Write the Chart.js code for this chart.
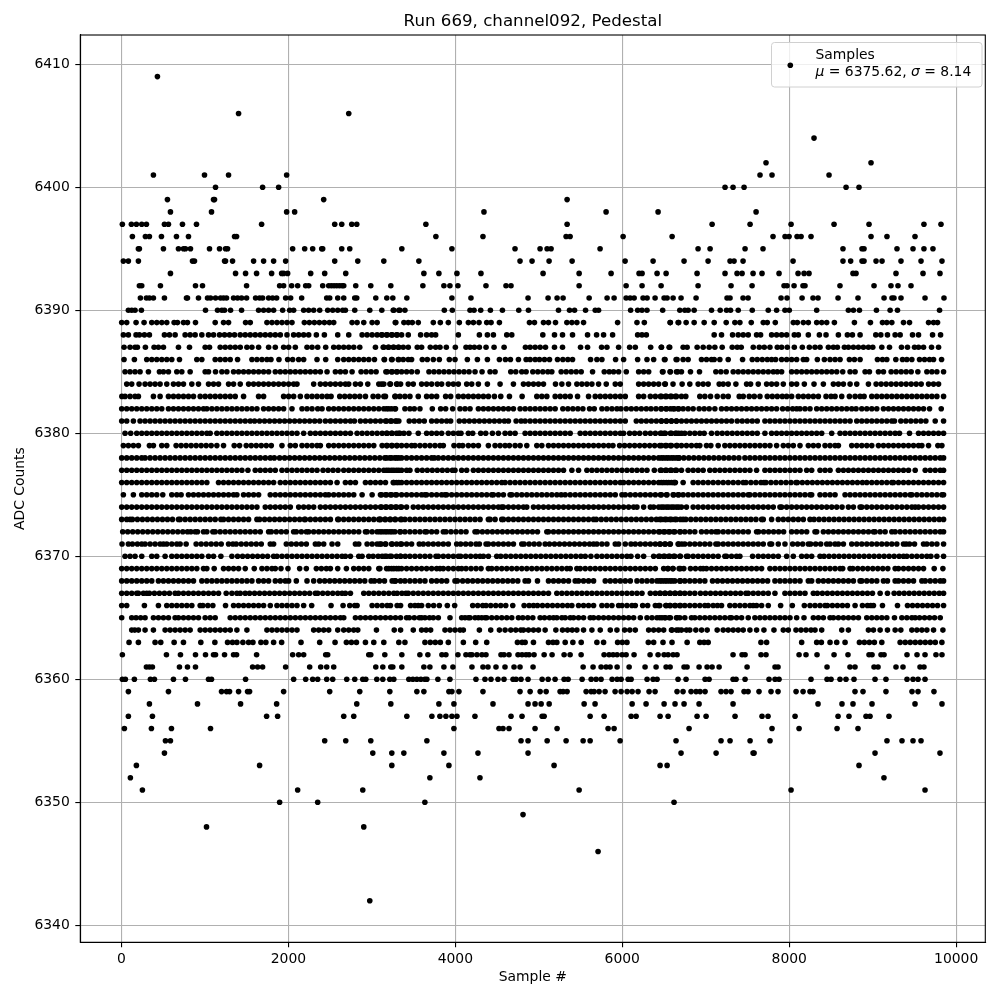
<!DOCTYPE html>
<html>
<head>
<meta charset="utf-8">
<title>Run 669, channel092, Pedestal</title>
<script src="https://cdn.jsdelivr.net/npm/chart.js@4"></script>
<style>
  html, body { margin: 0; padding: 0; background: #fff; }
  canvas { display: block; }
</style>
</head>
<body>
<canvas id="chart" width="1000" height="1000"></canvas>
<script>
const xTicks = [0,2000,4000,6000,8000,10000];
const yTicks = [6340,6350,6360,6370,6380,6390,6400,6410];

// sample numbers seen at each ADC level
const adc6342 = [2975];
const adc6346 = [5710];
const adc6348 = [1019,2903];
const adc6349 = [4811];
const adc6350 = [1895,2351,3635,6620];
const adc6351 = [251,2111,2891,5483,8022,9627];
const adc6352 = [107,3695,4295,9135];
const adc6353 = [179,1655,3239,3923,5183,6453,6537,8836];
const adc6354 = [515,3011,3239,3383,3863,4271,4871,6704,7124,7567,7579,9028,9806];
const adc6355 = [527,587,2435,2687,2987,3659,4787,4871,5100,5327,5531,5615,5974,6644,7183,7291,7531,7770,9171,9351,9483,9579];
const adc6356 = [35,359,599,1067,3983,4523,4571,4643,4955,5219,5830,5902,6800,7794,8118,8573,8824];
const adc6357 = [83,371,1739,1871,2663,2783,3419,3719,3815,3887,3959,4019,4235,4667,4799,5040,5064,5615,5782,6106,6166,6453,6549,6896,7004,7351,7674,7746,8070,8585,8716,8920,8968,9195];
const adc6358 = [335,911,1427,1859,2819,3227,3803,3983,4451,4871,4955,5028,5124,5543,5674,6118,6285,6501,6632,6740,6920,7327,8345,8632,8764,8992,9507,9830];
const adc6359 = [83,563,1199,1259,1295,1403,1511,1535,1943,2495,2855,3215,3539,3623,3923,3959,4043,4331,4775,4896,5016,5088,5255,5291,5339,5567,5627,5662,5722,5794,5914,5986,6058,6118,6189,6321,6393,6656,6728,6824,6884,6932,6992,7183,7243,7303,7459,7507,7638,7782,7866,8082,8166,8249,8285,8788,8884,9159,9471,9543,9734];
const adc6360 = [11,47,155,347,395,623,767,1043,1079,1487,2063,2207,2291,2351,2459,2531,2699,2795,2891,2927,3059,3131,3215,3263,3443,3491,3539,3587,3635,3659,3791,3935,4247,4355,4427,4511,4583,4691,4727,4787,4871,5040,5112,5195,5303,5351,5519,5627,5686,5746,5878,5938,5986,6070,6106,6297,6369,6417,6668,6764,6992,7040,7327,7363,7471,7758,7830,7878,8261,8453,8501,8608,8680,8776,9028,9159,9411,9483,9543,9627];
const adc6361 = [299,335,371,695,791,887,1571,1631,1691,1967,2255,2387,2459,2543,3047,3131,3227,3251,3359,3623,3695,3863,3971,4199,4331,4391,4487,4595,4703,4775,4931,5531,5650,5746,5806,5854,5938,6082,6273,6405,6525,6573,6740,6776,6920,7016,7076,7160,7495,7830,7866,8453,8728,8788,9016,9064,9279,9363,9567,9614];
const adc6362 = [11,539,707,887,1007,1103,1127,1235,1343,1379,1619,2051,2123,2183,2447,2471,2963,2987,3155,3359,3575,3671,3839,3887,4031,4127,4175,4199,4259,4319,4367,4547,4583,4643,4751,4799,4847,4883,4943,5064,5159,5303,5375,5507,5782,5842,5890,5938,5998,6046,6141,6333,6429,6501,6549,6609,6656,7327,7435,7471,7662,7722,8118,8201,8333,8537,8704,8956,8992,9100,9136,9411,9531,9627,9758,9830];
const adc6363 = [91,203,403,471,631,743,951,1119,1271,1330,1383,1455,1523,1575,1671,1730,1823,1919,2151,2375,2559,2695,2755,2815,2923,3023,3143,3323,3396,3636,3700,3760,3820,3916,4096,4244,4376,4744,4800,4836,4936,5116,5170,5216,5316,5408,5508,5696,5776,5944,6000,6056,6312,6376,6488,6596,6777,6929,6980,7029,7661,7729,8149,8329,8385,8489,8569,8669,8841,8900,8960,9020,9109,9329,9390,9450,9510,9570,9630,9690,9750,9829];
const adc6364 = [123,160,203,283,383,523,583,643,703,763,823,943,1003,1063,1123,1183,1243,1303,1383,1503,1743,1803,1863,1923,1983,2043,2103,2303,2363,2423,2483,2591,2663,2723,2783,2831,3055,3268,3344,3496,3596,3650,3704,3876,3936,3996,4056,4096,4288,4424,4528,4596,4664,4724,4784,4816,4876,4936,4996,5076,5204,5284,5344,5400,5456,5536,5636,5736,5856,5936,6028,6090,6156,6316,6376,6436,6496,6596,6676,6589,6649,6709,6769,6809,6881,6950,7017,7137,7209,7269,7329,7389,7449,7529,7609,7697,7817,7929,7989,8081,8141,8201,8261,8309,8389,8629,8709,8949,9009,9089,9177,9269,9337,9469,9529,9589,9649,9729,9841];
const adc6365 = [3,123,175,230,283,383,443,503,563,643,683,743,803,863,923,1003,1063,1123,1303,1363,1423,1483,1543,1603,1663,1723,1783,1843,1903,1963,2023,2083,2143,2203,2263,2323,2383,2443,2503,2563,2623,2663,2803,2863,2923,2983,3043,3103,3163,3223,3283,3343,3416,3448,3508,3568,3596,3636,3690,3736,3796,3936,4076,4116,4156,4176,4236,4276,4316,4356,4376,4436,4496,4556,4616,4676,4756,4808,4868,4928,5016,5068,5128,5176,5216,5276,5316,5376,5416,5476,5536,5616,5656,5716,5776,5836,5896,5956,6016,6076,6136,6216,6296,6356,6416,6476,6516,6576,6656,6449,6509,6561,6649,6689,6749,6829,6869,6929,6989,7049,7109,7169,7229,7289,7309,7369,7429,7509,7589,7649,7709,7769,7829,7889,7949,8009,8089,8177,8289,8349,8409,8489,8529,8589,8649,8709,8769,8829,8929,8989,9049,9109,9169,9261,9349,9409,9469,9509,9561,9621,9681,9741,9809];
const adc6366 = [3,63,275,443,543,603,663,723,783,843,943,975,1035,1095,1247,1343,1403,1463,1523,1583,1643,1703,1783,1863,1923,1983,2043,2103,2183,2279,2511,2655,2735,2795,2823,3003,3063,3123,3183,3223,3303,3344,3464,3516,3556,3596,3676,3740,3808,3904,3992,4208,4268,4328,4368,4424,4484,4544,4604,4688,4824,4884,4936,4984,5044,5104,5164,5224,5284,5344,5396,5476,5536,5596,5656,5756,5816,5876,5956,5996,6056,6116,6156,6244,6304,6396,6436,6528,6576,6636,6688,6449,6521,6569,6629,6697,6749,6809,6869,6929,6989,7029,7089,7140,7189,7289,7349,7409,7469,7529,7569,7609,7669,7749,7897,8037,8181,8249,8309,8369,8429,8457,8517,8577,8637,8697,8789,8877,8937,8977,9009,9117,9297,9417,9477,9537,9597,9657,9717,9777,9849];
const adc6367 = [3,63,123,183,203,263,303,335,395,455,515,575,643,683,743,803,863,923,983,1043,1103,1163,1255,1323,1383,1423,1483,1535,1595,1655,1715,1775,1835,1895,1955,2015,2075,2135,2195,2255,2323,2351,2411,2471,2531,2591,2643,2683,2743,2903,2963,3023,3083,3143,3203,3263,3303,3360,3408,3436,3496,3556,3616,3676,3736,3796,3856,3916,3976,4036,4096,4156,4216,4276,4336,4396,4456,4516,4576,4636,4696,4756,4816,4876,4936,4996,5056,5116,5216,5276,5336,5396,5456,5516,5576,5636,5696,5756,5816,5876,5936,5996,6056,6116,6176,6236,6336,6396,6456,6516,6576,6636,6696,6449,6509,6569,6629,6689,6749,6809,6869,6937,6997,7057,7117,7177,7237,7297,7357,7417,7481,7509,7569,7629,7689,7749,7829,7949,8009,8069,8129,8189,8289,8337,8397,8457,8517,8577,8637,8697,8757,8817,8877,8937,8997,9089,9177,9257,9317,9377,9437,9497,9557,9617,9677,9737,9797,9849];
const adc6368 = [3,63,123,183,243,303,363,443,503,563,623,683,743,803,863,963,1023,1083,1143,1203,1263,1323,1383,1443,1503,1563,1643,1703,1763,1843,1903,1963,2003,2095,2223,2303,2375,2435,2495,2555,2615,2675,2735,2795,2855,2915,2991,3031,3091,3151,3243,3283,3343,3396,3276,3456,3516,3576,3636,3716,3776,3836,3896,3996,4024,4088,4148,4208,4268,4328,4388,4448,4508,4568,4628,4688,4748,4836,4876,4984,5116,5176,5236,5296,5356,5436,5476,5536,5596,5656,5796,5856,5916,5976,6036,6096,6176,6236,6296,6356,6416,6476,6536,6596,6696,6449,6509,6569,6629,6689,6749,6809,6869,6929,6989,7081,7141,7201,7261,7321,7381,7441,7501,7561,7621,7681,7741,7829,7889,7949,8009,8069,8129,8229,8269,8349,8409,8469,8529,8589,8649,8709,8769,8849,8869,8929,8989,9049,9129,9177,9269,9309,9369,9429,9489,9589,9629,9689,9749,9809,9849];
const adc6369 = [3,63,123,183,243,303,363,423,483,543,603,663,723,783,843,903,983,1023,1111,1223,1283,1343,1403,1483,1591,1683,1743,1803,1843,1911,1995,2135,2215,2335,2395,2455,2503,2591,2695,2783,2843,2903,2963,3083,3203,3263,3323,3096,3176,3236,3296,3356,3416,3476,3536,3596,3656,3716,3776,3816,3856,3916,3976,4036,4076,4128,4188,4248,4308,4396,4436,4496,4556,4616,4676,4736,4796,4856,4916,4976,5036,5096,5156,5216,5276,5336,5376,5456,5496,5556,5616,5676,5736,5796,5856,5916,5976,6036,6096,6156,6216,6276,6336,6396,6496,6544,6604,6696,6549,6609,6681,6737,6817,6877,6937,6969,7009,7069,7129,7189,7249,7309,7369,7429,7489,7549,7609,7669,7769,7829,7889,7949,8009,8069,8129,8189,8249,8309,8369,8429,8489,8549,8609,8641,8729,8761,8821,8881,8941,9001,9061,9121,9181,9269,9309,9369,9429,9489,9549,9609,9737,9841];
const adc6370 = [43,103,163,243,363,423,523,603,663,723,783,843,903,963,1043,1103,1191,1323,1391,1451,1511,1571,1631,1691,1751,1823,1863,1923,1983,2043,2103,2163,2223,2283,2343,2403,2463,2523,2583,2643,2683,2743,2843,2883,2963,3015,3075,3123,3175,3235,3295,3343,3400,3156,3216,3344,3456,3516,3576,3636,3696,3768,3796,3856,3916,3976,4036,4064,4124,4184,4244,4296,4336,4396,4496,4544,4604,4664,4724,4784,4844,4904,4964,5024,5084,5144,5204,5264,5324,5384,5444,5504,5556,5624,5696,5756,5816,5876,5936,5996,6056,6104,6184,6256,6376,6436,6496,6556,6616,6696,6449,6509,6569,6629,6689,6769,6789,6849,6909,6969,7029,7089,7149,7229,7249,7309,7369,7409,7561,7629,7689,7749,7809,7869,7969,8049,8149,8209,8269,8369,8417,8477,8537,8597,8657,8717,8777,8837,8897,8957,9017,9077,9137,9197,9257,9317,9369,9409,9469,9529,9589,9649,9697,9769,9849];
const adc6371 = [7,83,131,191,243,283,343,403,463,503,543,603,663,703,775,895,955,1015,1075,1135,1195,1283,1335,1375,1435,1495,1555,1615,1675,1783,1823,1975,2035,2095,2155,2215,2323,2363,2423,2523,2591,2803,2843,2943,3003,3063,3111,3167,3243,3343,3096,3160,3236,3296,3356,3416,3476,3568,3616,3676,3736,3796,3856,3916,4016,4064,4124,4184,4248,4288,4368,4396,4456,4516,4576,4636,4696,4796,4824,4884,4944,5004,5076,5128,5188,5248,5308,5368,5428,5488,5548,5608,5656,5696,5756,5816,5916,5956,6036,6104,6156,6216,6276,6336,6396,6456,6516,6576,6676,6449,6509,6569,6669,6713,6749,6809,6869,6929,6989,7049,7121,7149,7209,7269,7329,7389,7449,7509,7569,7629,7689,7769,7789,7869,7949,8041,8101,8161,8229,8257,8317,8377,8449,8489,8549,8589,8649,8749,8809,8869,8929,8989,9049,9109,9169,9229,9289,9369,9401,9441,9501,9609,9649,9709,9769,9849];
const adc6372 = [15,75,135,195,255,315,375,435,495,555,615,675,735,791,831,883,911,983,1023,1095,1123,1183,1243,1303,1363,1423,1483,1543,1603,1663,1763,1795,1855,1915,1975,2063,2095,2155,2215,2243,2303,2363,2423,2483,2543,2603,2663,2723,2783,2843,2923,2943,3003,3063,3123,3183,3243,3343,3096,3156,3216,3276,3336,3396,3456,3516,3576,3636,3656,3716,3776,3856,3888,3948,4008,4068,4128,4236,4264,4324,4384,4444,4504,4564,4624,4684,4744,4804,4864,4924,4984,5096,5116,5176,5236,5296,5356,5416,5476,5536,5596,5656,5716,5776,5836,5896,5956,6016,6076,6136,6196,6256,6316,6376,6436,6496,6556,6616,6696,6449,6509,6569,6629,6689,6749,6809,6869,6949,7009,7069,7121,7149,7209,7269,7329,7389,7449,7509,7609,7633,7693,7753,7813,7873,7933,8029,8089,8149,8209,8309,8329,8409,8469,8529,8589,8649,8709,8769,8829,8889,8949,9009,9029,9089,9149,9229,9269,9329,9389,9449,9509,9569,9629,9689,9749,9809,9849];
const adc6373 = [3,63,103,131,191,251,311,371,431,491,551,611,683,703,763,823,883,943,1003,1063,1123,1191,1223,1283,1343,1403,1463,1523,1623,1655,1715,1775,1835,1895,1955,2015,2075,2135,2191,2203,2263,2323,2383,2443,2503,2591,2603,2663,2723,2783,2843,2903,2963,3023,3083,3103,3163,3223,3283,3343,3096,3156,3216,3276,3356,3396,3456,3516,3576,3636,3696,3756,3816,3876,3936,3996,4056,4116,4176,4236,4296,4396,4416,4476,4556,4576,4636,4696,4756,4816,4876,4936,4996,5056,5116,5176,5236,5296,5356,5416,5476,5536,5596,5656,5688,5748,5808,5868,5928,5988,6048,6108,6168,6228,6288,6348,6408,6468,6528,6588,6648,6696,6449,6509,6569,6629,6729,6761,6821,6881,6941,7001,7061,7121,7181,7241,7301,7361,7421,7481,7541,7601,7669,7689,7789,7869,7929,7989,8049,8109,8169,8249,8297,8357,8417,8477,8537,8597,8657,8717,8777,8837,8897,8957,9017,9077,9137,9197,9257,9317,9377,9437,9497,9557,9617,9677,9737,9797,9849];
const adc6374 = [3,63,123,183,243,303,363,423,483,543,603,663,723,783,843,903,963,1023,1083,1143,1203,1263,1323,1383,1443,1503,1563,1623,1723,1783,1843,1903,1963,2023,2123,2183,2243,2303,2383,2443,2503,2563,2623,2683,2743,2803,2863,2923,2983,3043,3103,3163,3223,3283,3343,3116,3176,3236,3296,3356,3416,3496,3556,3616,3676,3736,3796,3856,3916,3976,4036,4096,4156,4216,4276,4336,4396,4456,4516,4556,4576,4636,4696,4756,4816,4856,4936,4996,5056,5116,5176,5236,5296,5356,5416,5476,5536,5596,5656,5716,5776,5836,5896,5956,6016,6076,6136,6176,6256,6336,6376,6436,6496,6556,6616,6676,6469,6529,6589,6649,6709,6769,6849,6909,6969,7029,7089,7149,7209,7269,7329,7389,7449,7509,7569,7629,7689,7749,7809,7889,7909,7969,8029,8089,8149,8209,8269,8329,8389,8449,8509,8569,8633,8709,8769,8849,8869,8929,8989,9049,9109,9169,9229,9289,9349,9409,9469,9509,9549,9609,9669,9729,9789,9849];
const adc6375 = [23,143,243,303,363,423,495,603,663,715,803,863,923,983,1043,1103,1163,1223,1283,1343,1383,1463,1523,1583,1643,1783,1843,1903,1963,2023,2083,2143,2203,2263,2323,2383,2443,2483,2543,2603,2663,2723,2783,2883,3003,3103,3163,3223,3283,3116,3176,3236,3296,3356,3416,3476,3536,3596,3636,3656,3716,3776,3836,3876,3896,3956,4016,4076,4136,4196,4256,4316,4376,4436,4456,4516,4576,4656,4676,4736,4796,4856,4916,4976,5036,5096,5156,5216,5268,5316,5376,5436,5496,5556,5616,5676,5736,5796,5856,5916,5996,6036,6096,6156,6216,6276,6336,6396,6456,6536,6616,6676,6469,6529,6609,6669,6729,6789,6849,6909,6969,7029,7089,7149,7209,7269,7329,7389,7449,7509,7529,7589,7649,7709,7769,7829,7889,7949,8009,8069,8129,8189,8249,8269,8369,8429,8489,8549,8669,8729,8789,8849,8909,8969,9029,9089,9149,9209,9269,9329,9389,9449,9469,9529,9589,9649,9709,9769,9829,9849];
const adc6376 = [3,63,123,183,243,303,363,423,483,543,603,663,723,783,843,903,963,1023,1163,1223,1283,1343,1403,1463,1523,1583,1643,1703,1763,1823,1903,1963,2023,2083,2143,2203,2263,2323,2383,2443,2503,2583,2683,2743,2803,2923,2983,3043,3103,3163,3263,3323,3256,3296,3356,3416,3476,3536,3596,3656,3716,3776,3836,3896,3956,4016,4076,4136,4196,4256,4316,4376,4436,4496,4556,4596,4656,4716,4776,4836,4896,4956,5016,5076,5136,5196,5256,5316,5376,5436,5496,5556,5616,5676,5736,5796,5856,5916,5976,6016,6076,6136,6196,6256,6316,6376,6436,6496,6556,6616,6636,6469,6529,6589,6629,6729,6849,6909,6969,7029,7089,7149,7209,7269,7329,7389,7449,7481,7541,7601,7661,7697,7721,7781,7841,7901,7961,8021,8081,8097,8157,8217,8277,8337,8397,8457,8517,8577,8637,8697,8757,8817,8877,8929,8989,9049,9109,9169,9229,9249,9309,9369,9429,9489,9549,9609,9669,9729,9789,9849];
const adc6377 = [3,63,123,183,243,303,363,423,483,543,603,663,723,783,843,903,963,1023,1083,1143,1203,1263,1323,1383,1443,1515,1603,1663,1723,1783,1843,1923,1983,2043,2103,2163,2223,2283,2343,2415,2475,2535,2595,2663,2723,2783,2843,2903,2963,3023,3083,3143,3203,3263,3323,3176,3236,3296,3356,3416,3456,3544,3604,3664,3724,3784,3844,3904,3964,3996,4076,4136,4216,4276,4336,4396,4456,4516,4576,4636,4696,4756,4816,4876,4936,4996,5056,5116,5176,5236,5296,5396,5476,5576,5636,5696,5756,5816,5876,5936,5996,6056,6116,6176,6236,6296,6384,6456,6516,6576,6636,6469,6529,6589,6649,6709,6789,6849,6909,6969,7049,7109,7169,7229,7289,7349,7409,7469,7529,7609,7709,7769,7829,7889,7949,8009,8069,8129,8209,8269,8369,8429,8489,8589,8649,8709,8769,8829,8889,8949,9009,9069,9129,9189,9249,9309,9369,9429,9509,9629,9689,9749,9809,9849];
const adc6378 = [3,63,123,183,243,283,343,403,463,523,583,643,703,763,823,883,943,1003,1063,1123,1183,1243,1303,1363,1423,1483,1543,1603,1663,1723,1783,1831,1895,1955,2015,2075,2135,2195,2255,2315,2375,2435,2495,2555,2615,2675,2735,2795,2855,2915,2975,3035,3095,3155,3215,3275,3323,3176,3236,3296,3356,3416,3476,3536,3596,3656,3716,3748,3796,3856,3916,3976,4036,4096,4156,4216,4276,4336,4396,4456,4516,4576,4636,4696,4756,4816,4876,4936,4996,5056,5116,5176,5236,5296,5356,5416,5476,5536,5596,5656,5716,5776,5836,5896,5956,6016,6076,6136,6196,6256,6316,6376,6436,6496,6556,6616,6676,6469,6529,6589,6649,6681,6737,6797,6857,6917,6977,7037,7097,7157,7217,7277,7337,7397,7469,7529,7589,7649,7709,7769,7829,7889,7949,8009,8069,8129,8189,8249,8309,8369,8429,8489,8549,8609,8669,8729,8789,8849,8909,8969,9029,9089,9149,9209,9269,9329,9389,9449,9509,9569,9629,9689,9749,9809,9849];
const adc6379 = [23,83,143,203,335,383,483,543,655,715,775,835,895,955,1015,1075,1143,1223,1351,1415,1495,1555,1615,1675,1735,1795,1923,2023,2083,2163,2223,2283,2343,2383,2483,2543,2603,2663,2723,2783,2843,2903,2963,3023,3123,3183,3243,3303,3176,3236,3296,3356,3416,3476,3516,3576,3636,3696,3756,3816,3856,3984,4044,4088,4156,4216,4276,4396,4476,4536,4596,4648,4716,4776,4856,4976,5036,5116,5176,5236,5296,5356,5416,5476,5536,5596,5656,5716,5776,5836,5888,5968,6028,6088,6148,6208,6268,6328,6388,6448,6516,6576,6656,6469,6529,6589,6649,6709,6769,6829,6889,6929,7009,7061,7149,7229,7289,7349,7409,7469,7529,7589,7649,7709,7769,7849,7929,7989,8049,8129,8229,8289,8349,8429,8489,8549,8589,8749,8809,8869,8929,8989,9069,9129,9189,9249,9309,9369,9429,9489,9549,9589,9669,9781,9829];
const adc6380 = [43,111,183,243,303,363,423,483,543,603,663,723,783,843,903,963,1023,1063,1143,1203,1263,1323,1383,1443,1503,1563,1623,1683,1743,1803,1863,1923,1983,2043,2103,2183,2263,2323,2383,2443,2503,2563,2623,2683,2743,2823,2883,2943,3003,3063,3123,3183,3243,3323,3176,3236,3296,3336,3384,3444,3556,3656,3716,3776,3836,3916,3976,4036,4068,4156,4208,4304,4364,4444,4516,4596,4656,4716,4836,4896,4956,5016,5076,5136,5196,5256,5316,5376,5496,5556,5616,5676,5736,5796,5856,5916,5976,6016,6088,6148,6208,6276,6336,6396,6456,6516,6576,6636,6676,6469,6501,6589,6649,6709,6749,6809,6869,6929,6981,7069,7137,7197,7257,7317,7377,7437,7497,7557,7617,7709,7789,7849,7909,7969,8029,8089,8149,8209,8269,8329,8389,8509,8609,8669,8729,8789,8849,8909,8969,9029,9089,9149,9209,9269,9321,9441,9549,9609,9669,9729,9789,9849];
const adc6381 = [3,63,143,223,283,343,403,463,523,583,643,703,763,823,883,943,1003,1063,1123,1183,1243,1303,1363,1423,1483,1543,1595,1655,1715,1775,1835,1895,1955,2015,2075,2135,2195,2255,2315,2375,2443,2503,2563,2623,2683,2743,2791,2863,2923,2983,3043,3103,3163,3223,3283,3323,3176,3236,3296,3448,3508,3568,3628,3716,3776,3836,3896,3944,4048,4108,4168,4228,4288,4348,4408,4468,4528,4588,4636,4728,4788,4836,4896,4956,5016,5076,5136,5196,5256,5316,5376,5436,5496,5556,5616,5676,5736,5796,5856,5916,5976,6036,6168,6228,6288,6348,6408,6468,6528,6588,6648,6469,6529,6589,6649,6709,6769,6829,6889,6949,7009,7069,7129,7189,7249,7309,7377,7437,7497,7557,7617,7709,7769,7829,7889,7949,8009,8069,8129,8189,8249,8309,8369,8429,8489,8549,8609,8669,8729,8809,8869,8929,8989,9049,9109,9169,9229,9261,9337,9397,9457,9517,9577,9637,9749,9849];
const adc6382 = [3,63,123,183,243,303,363,423,483,563,623,683,743,803,863,923,983,1023,1083,1143,1203,1263,1323,1383,1443,1503,1563,1623,1703,1763,1823,1883,1943,2043,2163,2223,2283,2351,2403,2483,2543,2603,2663,2723,2783,2843,2903,2963,3023,3083,3143,3203,3283,3176,3236,3276,3396,3456,3508,3576,3724,3824,3884,3968,4056,4116,4176,4276,4336,4396,4456,4516,4576,4636,4696,4776,4836,4896,4956,5016,5076,5136,5196,5288,5348,5408,5468,5528,5608,5664,5756,5816,5876,5936,5984,6048,6108,6168,6228,6288,6344,6404,6464,6524,6576,6624,6676,6469,6529,6609,6669,6729,6789,6849,6921,6981,7041,7109,7189,7249,7309,7369,7429,7489,7549,7609,7669,7729,7789,7849,7921,7981,8041,8089,8129,8189,8249,8329,8389,8449,8509,8569,8629,8689,8749,8801,8869,8929,8989,9049,9129,9189,9249,9309,9369,9429,9489,9549,9609,9681,9821];
const adc6383 = [5,43,103,163,203,383,463,563,623,683,743,803,863,943,1003,1063,1123,1183,1243,1303,1363,1463,1643,1703,1943,2003,2063,2143,2223,2283,2343,2403,2463,2511,2615,2675,2735,2795,2855,2923,3015,3075,3163,3283,3144,3276,3336,3396,3456,3556,3656,3716,3776,3884,3944,4036,4096,4156,4216,4276,4336,4396,4468,4544,4648,4800,4976,5036,5096,5196,5256,5316,5376,5464,5596,5676,5736,5796,5856,5916,5976,6036,6196,6256,6336,6396,6456,6516,6576,6636,6469,6529,6589,6649,6709,6761,6929,6989,7057,7137,7209,7269,7401,7449,7521,7581,7649,7737,7797,7857,7917,7969,8029,8109,8169,8229,8289,8349,8441,8501,8549,8629,8721,8789,8849,8897,8989,9049,9109,9169,9229,9289,9349,9409,9469,9529,9589,9649,9709,9769,9849];
const adc6384 = [63,123,211,283,343,403,463,543,623,683,743,843,923,1043,1103,1163,1283,1343,1423,1523,1583,1643,1703,1763,1823,1883,1943,2003,2063,2103,2303,2383,2443,2503,2563,2623,2683,2723,2803,2863,2951,3083,3143,3223,3303,3116,3216,3296,3344,3436,3496,3596,3656,3716,3784,3836,3916,3976,4036,4136,4196,4276,4384,4536,4696,4816,4876,4936,4996,5056,5200,5276,5356,5456,5516,5576,5636,5716,5808,5916,5976,6196,6256,6316,6376,6436,6516,6608,6509,6717,6809,6909,6969,7029,7161,7209,7269,7361,7489,7537,7629,7729,7789,7849,7929,8029,8089,8181,8297,8409,8529,8589,8649,8729,8809,8949,9041,9101,9161,9221,9281,9341,9401,9461,9521,9581,9669,9729,9789];
const adc6385 = [43,103,163,223,323,455,503,563,663,723,823,1003,1043,1127,1203,1263,1343,1403,1463,1523,1583,1643,1703,1763,1843,1903,1963,2023,2083,2143,2203,2263,2323,2383,2463,2563,2623,2683,2763,2871,2931,2991,3051,3183,3243,3303,3168,3236,3296,3356,3416,3476,3544,3684,3744,3804,3864,3924,3984,4044,4104,4164,4236,4320,4416,4476,4664,4724,4796,4848,4928,4988,5048,5108,5156,5268,5328,5388,5448,5508,5644,5784,5844,5896,5956,6048,6196,6256,6316,6488,6576,6664,6481,6573,6649,6709,6817,6925,7121,7181,7245,7329,7389,7449,7509,7569,7629,7689,7749,7809,7857,7909,8029,8089,8149,8209,8269,8329,8389,8449,8509,8569,8641,8729,8789,8909,8961,9069,9129,9221,9281,9341,9401,9461,9541,9649,9709,9769,9849];
const adc6386 = [31,155,303,363,423,483,543,603,695,903,963,1123,1183,1243,1303,1391,1563,1623,1683,1743,1791,1887,1991,2051,2123,2183,2343,2447,2591,2663,2723,2783,2843,2903,2963,3031,3151,3243,3323,3148,3236,3316,3376,3436,3476,3604,3664,3736,3808,3928,3996,4144,4264,4384,4528,4600,4660,4756,4848,4896,4956,5008,5068,5128,5224,5288,5348,5404,5620,5696,5756,5920,6016,6184,6296,6376,6512,6656,6505,6645,6729,6789,6949,7009,7069,7101,7169,7269,7441,7557,7617,7677,7737,7789,7837,7909,7969,8029,8089,8169,8209,8337,8421,8489,8549,8609,8721,8781,8849,9057,9117,9169,9277,9357,9409,9469,9561,9621,9681,9729,9825];
const adc6387 = [31,103,163,191,287,391,443,503,683,815,1003,1055,1183,1243,1303,1363,1423,1503,1563,1643,1763,1843,1943,2003,2083,2223,2283,2351,2447,2543,2603,2663,2723,2783,2855,3043,3143,3203,3263,3323,3136,3196,3256,3316,3376,3436,3544,3596,3700,3764,3816,3892,4000,4128,4176,4228,4288,4368,4464,4584,4840,4896,4956,5016,5080,5188,5284,5500,5584,5752,5816,5956,6088,6156,6340,6468,6568,6469,6561,6729,6777,6897,6969,7041,7109,7197,7317,7377,7425,7569,7641,7701,7769,7857,7909,7977,8061,8157,8241,8309,8369,8469,8529,8577,8661,8709,8769,8829,8889,8949,9001,9109,9201,9345,9417,9501,9549,9609,9705,9789];
const adc6388 = [23,83,175,215,275,335,515,575,643,763,823,883,963,1043,1103,1175,1235,1295,1355,1423,1483,1543,1603,1663,1723,1783,1843,1903,1983,2063,2123,2183,2243,2335,2431,2591,2723,2883,2943,3003,3063,3123,3183,3243,3303,3116,3176,3236,3296,3356,3436,3584,3656,3716,3764,4036,4288,4384,4456,4616,4676,5048,5188,5284,5404,5584,5692,5776,5884,6184,6236,6288,7101,7189,7321,7389,7449,7509,7609,7657,7789,7849,7909,7969,8061,8109,8229,8361,8441,8589,8697,8757,8849,9037,9097,9177,9269,9329,9477,9549,9717,9813];
const adc6389 = [3,63,175,271,363,423,483,543,631,671,743,791,887,1123,1223,1283,1487,1543,1743,1803,1863,1923,1983,2043,2191,2251,2311,2371,2431,2491,2543,2763,2823,2903,3003,3063,3287,3280,3384,3436,3484,3556,3736,3820,3916,4048,4156,4216,4284,4376,4428,4528,4888,4948,5056,5116,5200,5336,5396,5456,5536,5944,6176,6264,6576,6676,6573,6669,6765,6861,6981,7101,7245,7349,7409,7545,7689,7737,7833,8049,8097,8169,8229,8329,8389,8449,8541,8781,8973,9117,9169,9229,9369,9441,9669,9729,9777];
const adc6390 = [83,123,163,239,1007,1151,1203,1235,1307,1439,1643,1703,1763,1823,1931,2015,2063,2183,2243,2303,2375,2471,2531,2591,2651,2683,2795,2975,3119,3263,3323,3256,3336,3396,3868,3964,4176,4224,4304,4420,4564,4760,4876,5236,5368,5428,5560,5676,5716,6100,6184,6236,6296,6484,6689,6749,6789,6861,7069,7173,7249,7297,7389,7557,7749,7849,7949,8001,8329,8709,8769,8841,9045,9209,9297,9801];
const adc6391 = [227,299,335,383,515,779,791,923,1031,1067,1127,1187,1223,1259,1343,1391,1439,1499,1607,1655,1691,1763,1811,1859,1967,2027,2159,2459,2495,2591,2663,2795,2819,3047,3179,3251,3419,3959,4187,4871,5111,5219,5291,5603,5818,5902,6046,6094,6142,6249,6297,6393,6501,6537,6609,6704,6884,7255,7291,7447,7507,7902,7974,8154,8285,8345,8585,8824,9136,9231,9255,9339,9627,9854];
const adc6392 = [215,243,467,887,971,1499,1895,1943,2039,2111,2207,2243,2411,2483,2515,2547,2579,2611,2643,2663,2807,2987,3227,3611,3863,3935,4031,4367,4607,4667,5483,6046,6237,6465,6908,7303,7555,7938,7974,8058,8165,8189,8608,9016,9219,9303,9459];
const adc6393 = [587,1367,1487,1619,1799,1919,1943,1991,2267,2435,2687,3623,3803,4019,4307,5051,5483,5866,6201,6237,6417,6525,6896,7231,7375,7435,7567,7674,7878,8106,8178,8237,8764,8800,9279,9603,9806];
const adc6394 = [23,83,203,851,875,1235,1247,1331,1583,1703,1823,1967,2555,2831,3143,3563,4775,4919,5123,5399,6034,6369,6740,7028,7291,7339,7447,8046,8644,8736,8872,8896,9040,9112,9339,9579,9830];
const adc6395 = [203,215,503,683,743,767,827,1055,1175,1247,1271,2051,2195,2291,2399,2411,2639,2735,3359,3959,4715,5015,5099,5147,5734,6908,7052,7471,7686,8644,8872,8896,9291,9483,9614,9722];
const adc6396 = [131,287,335,479,659,803,1355,1379,3767,4331,5327,5375,6010,6597,7806,7950,7998,8094,8142,8261,8980,9171,9507];
const adc6397 = [11,119,179,243,299,515,563,731,899,1679,2555,2639,2759,2819,3647,5339,7076,7531,8022,8537,8956,9614,9818];
const adc6398 = [587,1079,1979,2075,4343,5806,6429,7603];
const adc6399 = [551,1103,1115,2423,5339];
const adc6400 = [1127,1691,1883,7231,7327,7459,8681,8836];
const adc6401 = [383,995,1283,1979,7650,7794,8477];
const adc6402 = [7722,8980];
const adc6404 = [8297];
const adc6406 = [1403,2723];
const adc6409 = [431];

const levels = [
  [6342,adc6342],[6346,adc6346],[6348,adc6348],[6349,adc6349],[6350,adc6350],[6351,adc6351],[6352,adc6352],[6353,adc6353],
  [6354,adc6354],[6355,adc6355],[6356,adc6356],[6357,adc6357],[6358,adc6358],[6359,adc6359],[6360,adc6360],[6361,adc6361],
  [6362,adc6362],[6363,adc6363],[6364,adc6364],[6365,adc6365],[6366,adc6366],[6367,adc6367],[6368,adc6368],[6369,adc6369],
  [6370,adc6370],[6371,adc6371],[6372,adc6372],[6373,adc6373],[6374,adc6374],[6375,adc6375],[6376,adc6376],[6377,adc6377],
  [6378,adc6378],[6379,adc6379],[6380,adc6380],[6381,adc6381],[6382,adc6382],[6383,adc6383],[6384,adc6384],[6385,adc6385],
  [6386,adc6386],[6387,adc6387],[6388,adc6388],[6389,adc6389],[6390,adc6390],[6391,adc6391],[6392,adc6392],[6393,adc6393],
  [6394,adc6394],[6395,adc6395],[6396,adc6396],[6397,adc6397],[6398,adc6398],[6399,adc6399],[6400,adc6400],[6401,adc6401],
  [6402,adc6402],[6404,adc6404],[6406,adc6406],[6409,adc6409]
];

const FONT = '"DejaVu Sans", sans-serif';
const points = [];
levels.forEach(([adc, samples]) => samples.forEach(s => points.push({ x: s, y: adc })));

// top and right spines, chart.js only has the two scale borders
const framePlugin = {
  id: 'frame',
  afterDraw(chart) {
    const { ctx, chartArea: a } = chart;
    ctx.save();
    ctx.strokeStyle = '#000';
    ctx.lineWidth = 1.1;
    ctx.strokeRect(a.left, a.top, a.right - a.left, a.bottom - a.top);
    ctx.restore();
  }
};

// matplotlib style legend box, upper right
const legendPlugin = {
  id: 'statsLegend',
  afterDraw(chart) {
    const { ctx } = chart;
    ctx.save();
    ctx.beginPath();
    ctx.roundRect(771.5, 42.5, 210.5, 44.5, 3);
    ctx.fillStyle = 'rgba(255,255,255,0.8)';
    ctx.fill();
    ctx.strokeStyle = '#d0d0d0';
    ctx.lineWidth = 1;
    ctx.stroke();

    ctx.fillStyle = '#000';
    ctx.beginPath();
    ctx.arc(790.3, 65.3, 2.8, 0, Math.PI * 2);
    ctx.fill();

    ctx.textBaseline = 'alphabetic';
    ctx.textAlign = 'left';
    ctx.font = '13.9px ' + FONT;
    ctx.fillText('Samples', 815.5, 59);
    let x = 815.5;
    [['μ', true], [' = 6375.62, ', false], ['σ', true], [' = 8.14', false]].forEach(([txt, italic]) => {
      ctx.font = (italic ? 'italic ' : '') + '13.9px ' + FONT;
      ctx.fillText(txt, x, 76);
      x += ctx.measureText(txt).width;
    });
    ctx.restore();
  }
};

new Chart(document.getElementById('chart'), {
  type: 'scatter',
  data: {
    datasets: [{
      label: 'Samples',
      data: points,
      backgroundColor: '#000',
      borderWidth: 0,
      pointRadius: 2.8,
      pointHoverRadius: 2.8
    }]
  },
  plugins: [framePlugin, legendPlugin],
  options: {
    responsive: false,
    animation: false,
    layout: { padding: { right: 14.7 } },
    plugins: {
      legend: { display: false },
      tooltip: { enabled: false },
      title: {
        display: true,
        text: 'Run 669, channel092, Pedestal',
        color: '#000',
        fullSize: false,
        font: { family: FONT, size: 16.67, weight: 'normal', lineHeight: 1.56 },
        padding: { top: 9, bottom: 0 }
      }
    },
    scales: {
      x: {
        type: 'linear',
        min: -493,
        max: 10349,
        afterFit: s => { s.height = 57.7; },
        afterBuildTicks: s => { s.ticks = xTicks.map(v => ({ value: v })); },
        border: { color: '#000', width: 1.1 },
        grid: { color: '#b0b0b0', lineWidth: 1.1, tickColor: '#000', tickLength: 5 },
        ticks: { autoSkip: false, maxRotation: 0, color: '#000', padding: 4, font: { family: FONT, size: 13.9 }, callback: v => String(v) },
        title: { display: true, text: 'Sample #', color: '#000', font: { family: FONT, size: 13.9 }, padding: { top: 0, bottom: 14 } }
      },
      y: {
        type: 'linear',
        min: 6338.62,
        max: 6412.38,
        afterFit: s => { s.width = 80.3; },
        afterBuildTicks: s => { s.ticks = yTicks.map(v => ({ value: v })); },
        border: { color: '#000', width: 1.1 },
        grid: { color: '#b0b0b0', lineWidth: 1.1, tickColor: '#000', tickLength: 5 },
        ticks: { autoSkip: false, color: '#000', padding: 5.5, font: { family: FONT, size: 13.9 }, callback: v => String(v) },
        title: { display: true, text: 'ADC Counts', color: '#000', font: { family: FONT, size: 13.9 }, padding: { top: 12, bottom: 0 } }
      }
    }
  }
});
</script>
</body>
</html>
